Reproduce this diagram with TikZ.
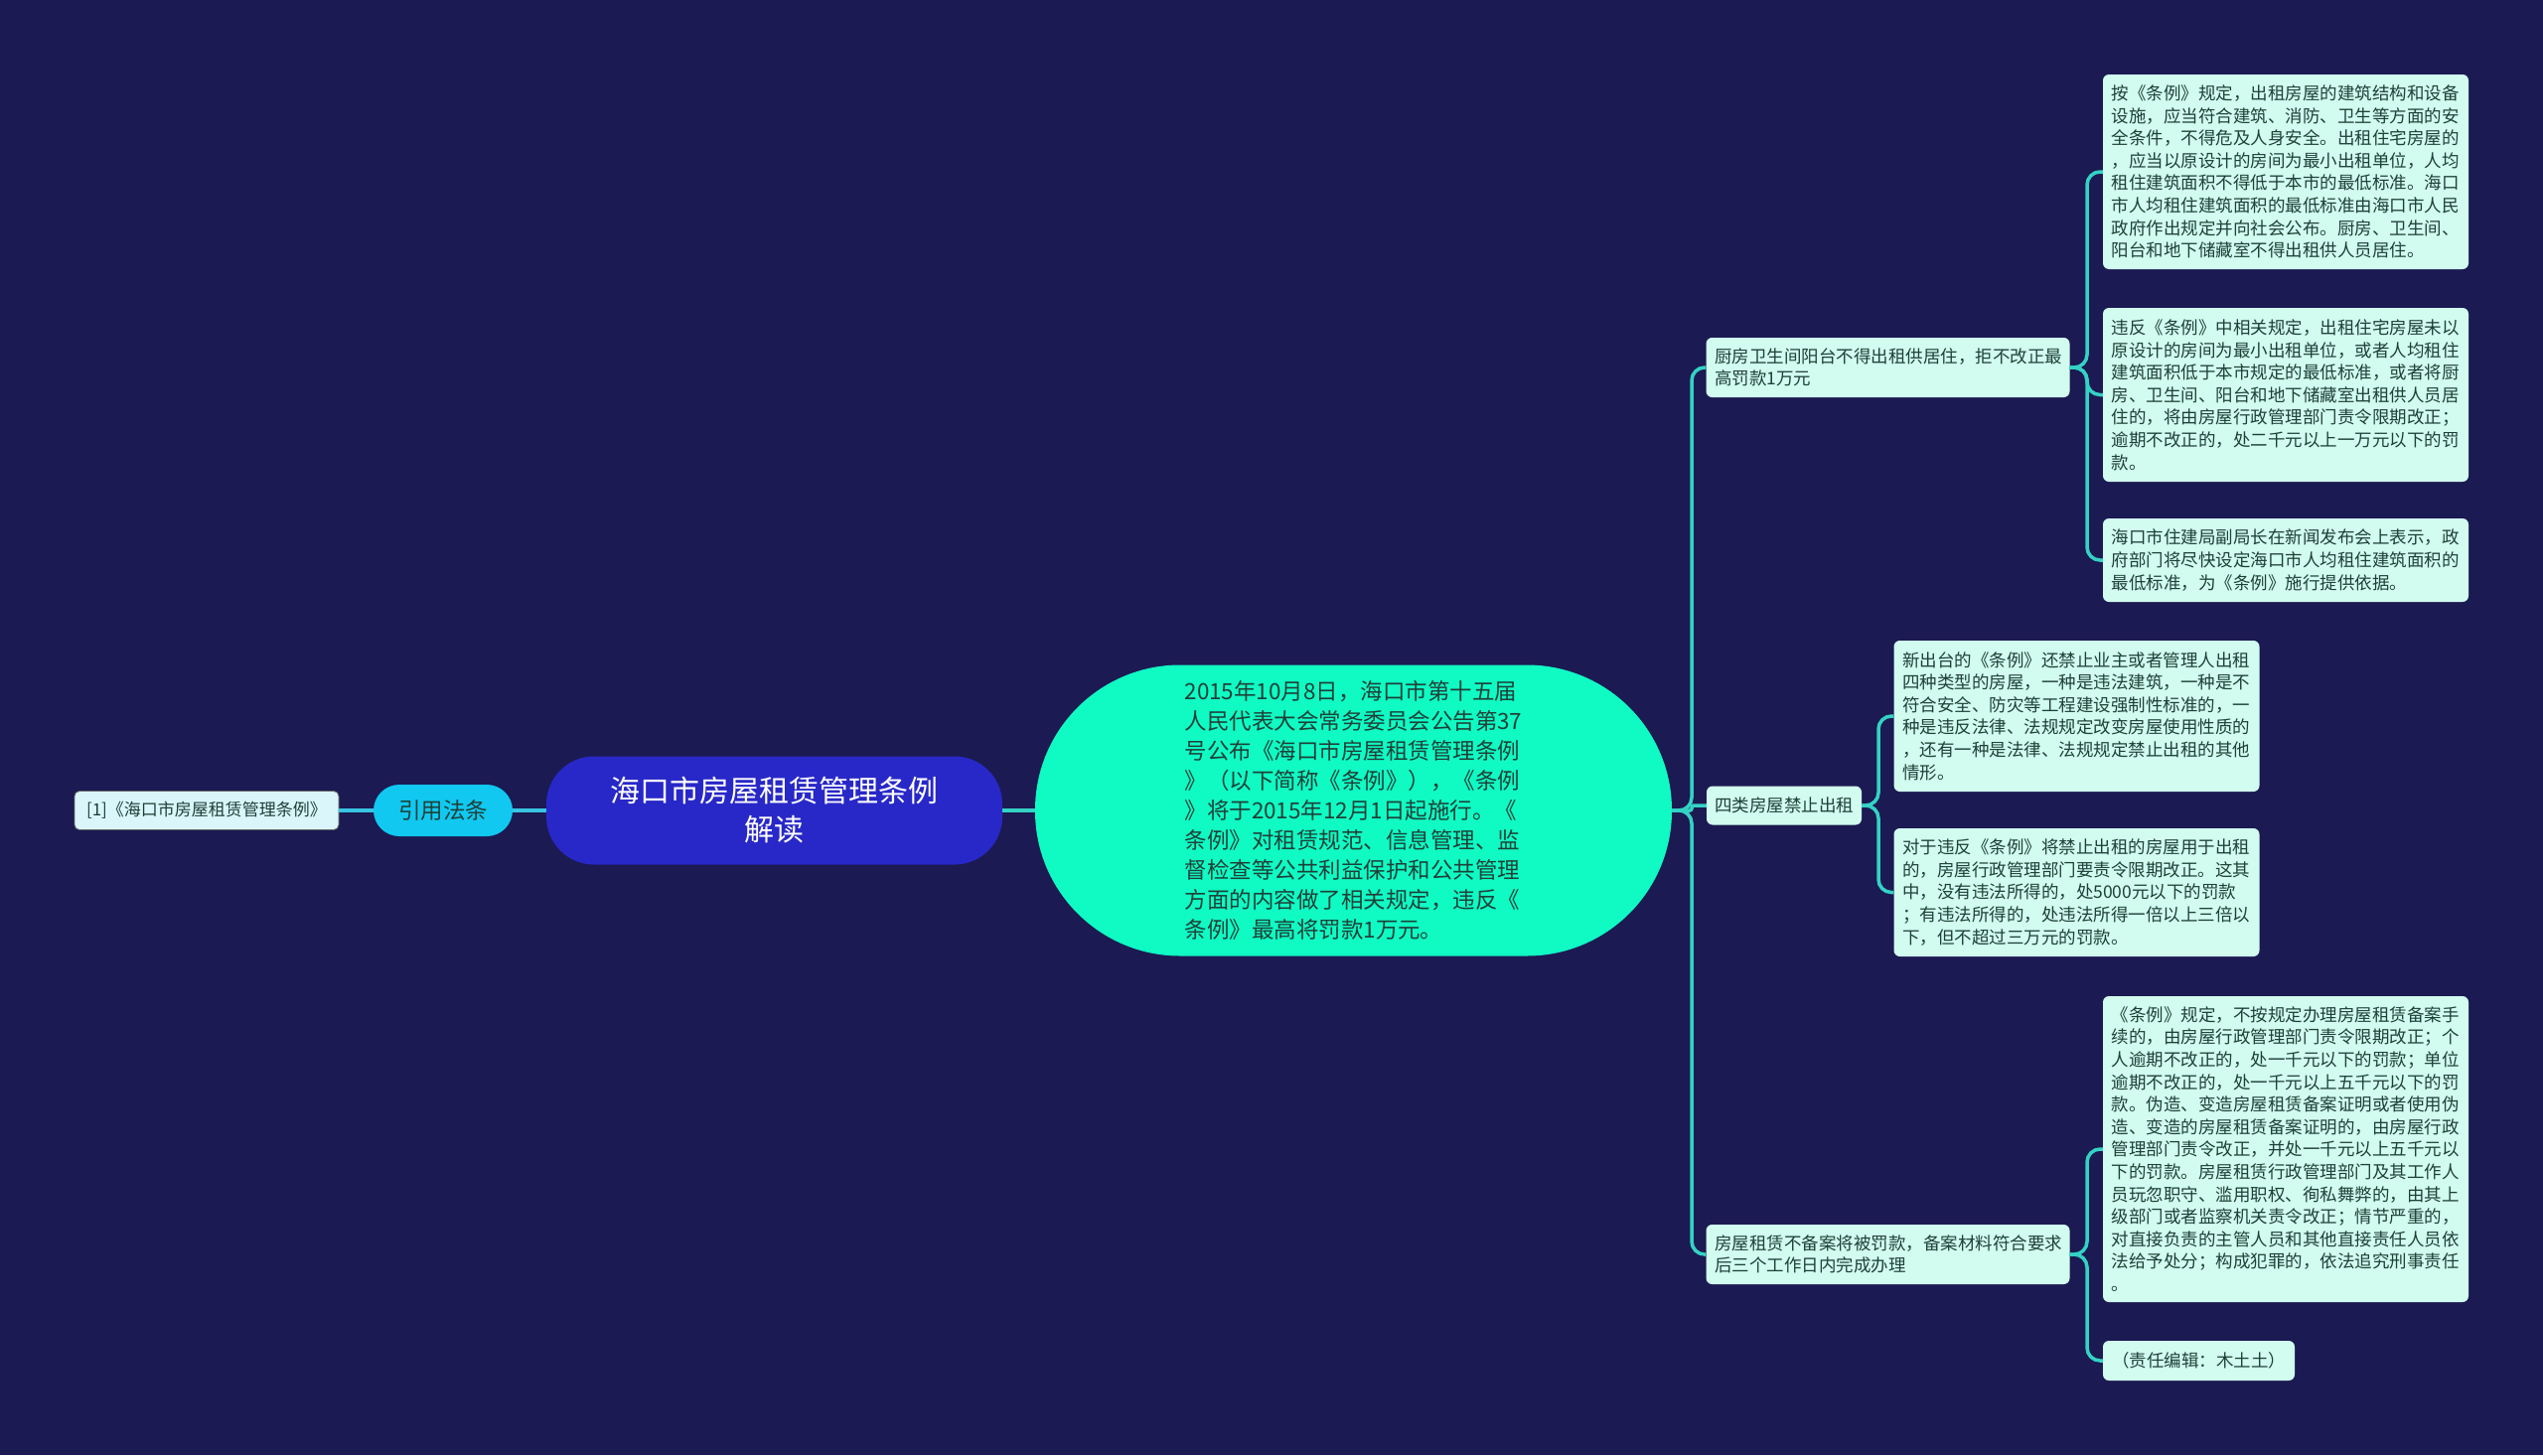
\documentclass[tikz,border=0pt]{standalone}
\usepackage{fontspec}
\setmainfont{Noto Sans CJK SC}
\definecolor{bgC}{RGB}{27,26,82}
\definecolor{lineC}{RGB}{52,210,196}
\definecolor{lineL}{RGB}{56,196,226}
\definecolor{leafC}{RGB}{210,252,240}
\definecolor{leafT}{RGB}{30,64,56}
\definecolor{centC}{RGB}{16,250,196}
\definecolor{rootC}{RGB}{40,40,200}
\definecolor{pillC}{RGB}{16,200,240}
\definecolor{refC}{RGB}{218,246,250}
\tikzset{
  leafbox/.style={fill=leafC, rounded corners=6pt, text=leafT, align=left,
    font=\fontsize{17.5}{22.6}\selectfont, inner xsep=8.5pt, inner ysep=4pt, text width=351pt},
  smallbox/.style={fill=leafC, rounded corners=6pt, text=leafT,
    font=\fontsize{17.5}{22.6}\selectfont, inner xsep=8pt, inner ysep=4pt},
  conn/.style={draw=lineC, line width=3.5pt, rounded corners=13pt},
  connL/.style={draw=lineL, line width=3.2pt},
}
\begin{document}
\begin{tikzpicture}[x=1pt,y=-1pt]
\fill[bgC] (0,0) rectangle (2560,1465);
\useasboundingbox (0,0) rectangle (2560,1465);

% central and root
\node[fill=centC, rounded corners=146pt, minimum width=641pt, minimum height=293pt,
  text width=340pt, align=left, text=leafT, font=\fontsize{22.5}{30}\selectfont, inner sep=0pt]
  (C) at (1362.5,816) {2015年10月8日，海口市第十五届\\人民代表大会常务委员会公告第37\\号公布《海口市房屋租赁管理条例\\》（以下简称《条例》），《条例\\》将于2015年12月1日起施行。《\\条例》对租赁规范、信息管理、监\\督检查等公共利益保护和公共管理\\方面的内容做了相关规定，违反《\\条例》最高将罚款1万元。};
\node[fill=rootC, rounded corners=48pt, minimum width=459pt, minimum height=109pt,
  align=center, text=white, font=\fontsize{30}{39}\selectfont, inner sep=0pt]
  (R) at (779.5,816) {海口市房屋租赁管理条例\\解读};
\node[fill=pillC, rounded corners=26pt, minimum width=140pt, minimum height=52pt,
  text=leafT, font=\fontsize{22.5}{28}\selectfont, inner sep=0pt]
  (P) at (446,816) {引用法条};
\node[fill=refC, draw=black!60, line width=0.8pt, rounded corners=5pt, minimum width=266pt, minimum height=39pt,
  text=leafT, font=\fontsize{17}{22}\selectfont, inner sep=0pt]
  (Q) at (208,816) {[1]《海口市房屋租赁管理条例》};

% level 2
\node[leafbox, minimum height=60pt, text width=349pt] (K1) at (1900.5,370)
  {厨房卫生间阳台不得出租供居住，拒不改正最\\高罚款1万元};
\node[smallbox, minimum width=156pt, minimum height=39pt] (K2) at (1796,811) {四类房屋禁止出租};
\node[leafbox, minimum height=60pt, text width=349pt] (K3) at (1900.5,1263)
  {房屋租赁不备案将被罚款，备案材料符合要求\\后三个工作日内完成办理};

% leaves of K1
\node[leafbox, minimum height=196pt] (L1) at (2301,173)
  {按《条例》规定，出租房屋的建筑结构和设备\\设施，应当符合建筑、消防、卫生等方面的安\\全条件，不得危及人身安全。出租住宅房屋的\\，应当以原设计的房间为最小出租单位，人均\\租住建筑面积不得低于本市的最低标准。海口\\市人均租住建筑面积的最低标准由海口市人民\\政府作出规定并向社会公布。厨房、卫生间、\\阳台和地下储藏室不得出租供人员居住。};
\node[leafbox, minimum height=175pt] (L2) at (2301,397.5)
  {违反《条例》中相关规定，出租住宅房屋未以\\原设计的房间为最小出租单位，或者人均租住\\建筑面积低于本市规定的最低标准，或者将厨\\房、卫生间、阳台和地下储藏室出租供人员居\\住的，将由房屋行政管理部门责令限期改正；\\逾期不改正的，处二千元以上一万元以下的罚\\款。};
\node[leafbox, minimum height=84pt] (L3) at (2301,564)
  {海口市住建局副局长在新闻发布会上表示，政\\府部门将尽快设定海口市人均租住建筑面积的\\最低标准，为《条例》施行提供依据。};

% leaves of K2
\node[leafbox, minimum height=152pt] (M1) at (2090.5,721)
  {新出台的《条例》还禁止业主或者管理人出租\\四种类型的房屋，一种是违法建筑，一种是不\\符合安全、防灾等工程建设强制性标准的，一\\种是违反法律、法规规定改变房屋使用性质的\\，还有一种是法律、法规规定禁止出租的其他\\情形。};
\node[leafbox, minimum height=129pt] (M2) at (2090.5,898.5)
  {对于违反《条例》将禁止出租的房屋用于出租\\的，房屋行政管理部门要责令限期改正。这其\\中，没有违法所得的，处5000元以下的罚款\\；有违法所得的，处违法所得一倍以上三倍以\\下，但不超过三万元的罚款。};

% leaves of K3
\node[leafbox, minimum height=308pt] (L6) at (2301,1157)
  {《条例》规定，不按规定办理房屋租赁备案手\\续的，由房屋行政管理部门责令限期改正；个\\人逾期不改正的，处一千元以下的罚款；单位\\逾期不改正的，处一千元以上五千元以下的罚\\款。伪造、变造房屋租赁备案证明或者使用伪\\造、变造的房屋租赁备案证明的，由房屋行政\\管理部门责令改正，并处一千元以上五千元以\\下的罚款。房屋租赁行政管理部门及其工作人\\员玩忽职守、滥用职权、徇私舞弊的，由其上\\级部门或者监察机关责令改正；情节严重的，\\对直接负责的主管人员和其他直接责任人员依\\法给予处分；构成犯罪的，依法追究刑事责任\\。};
\node[smallbox, minimum width=193pt, minimum height=40pt] (L7) at (2213.5,1370) {（责任编辑：木土土）};

% connectors
\coordinate (b0) at (1703,816);
\coordinate (b1) at (2101,370);
\coordinate (b2) at (1891,811);
\coordinate (b3) at (2101,1263);

\draw[connL] (Q.east) -- (P.west);
\draw[connL] (P.east) -- (R.west);
\draw[conn] (R.east) -- (C.west);

\draw[conn] (C.east) -- (b0) |- (K1.west);
\draw[conn, rounded corners=2pt] (C.east) -- (b0) |- (K2.west);
\draw[conn] (C.east) -- (b0) |- (K3.west);

\draw[conn] (K1.east) -- (b1) |- (L1.west);
\draw[conn] (K1.east) -- (b1) |- (L2.west);
\draw[conn] (K1.east) -- (b1) |- (L3.west);

\draw[conn] (K2.east) -- (b2) |- (M1.west);
\draw[conn] (K2.east) -- (b2) |- (M2.west);

\draw[conn] (K3.east) -- (b3) |- (L6.west);
\draw[conn] (K3.east) -- (b3) |- (L7.west);
\end{tikzpicture}
\end{document}
